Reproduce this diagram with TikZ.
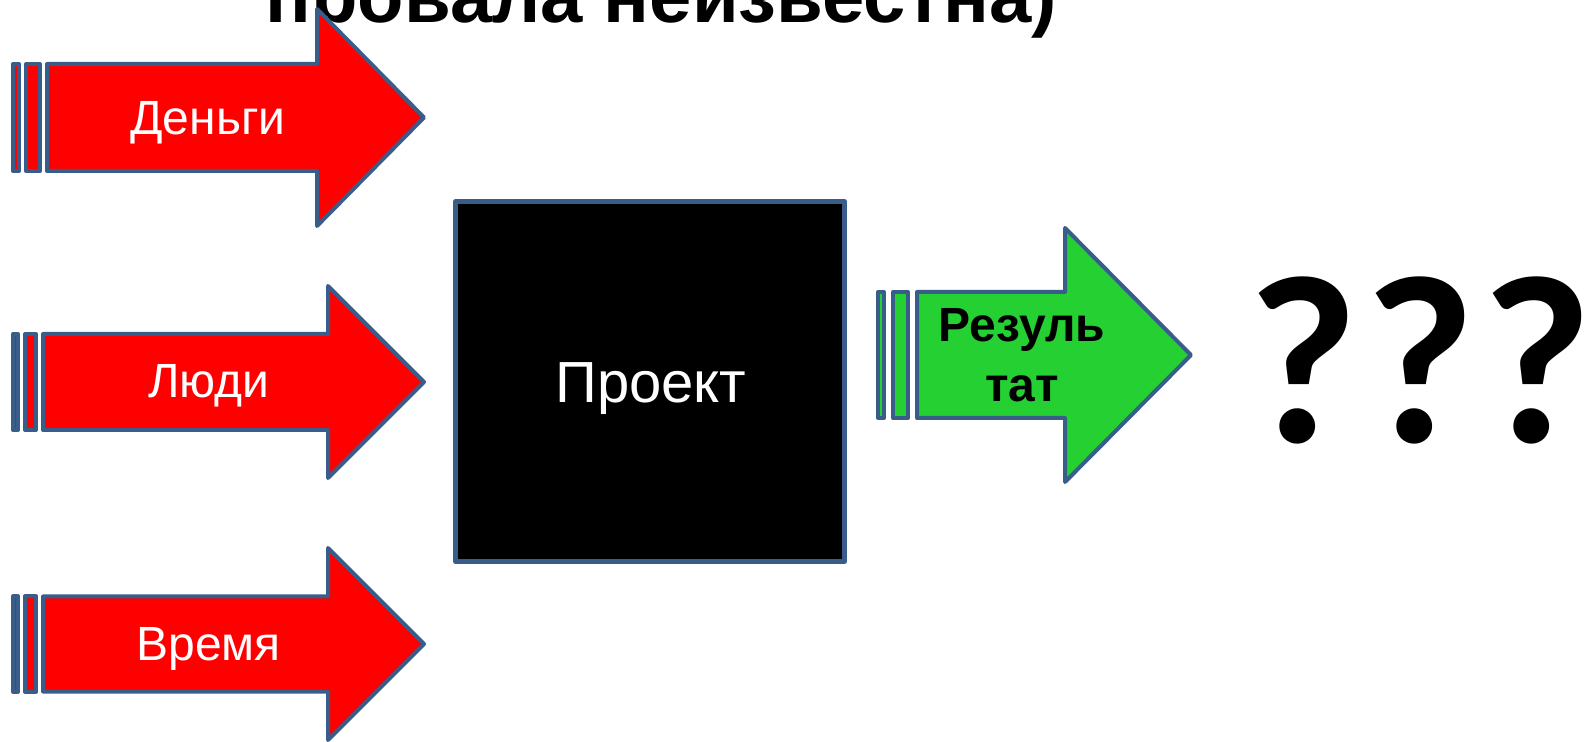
\documentclass[tikz,border=0pt]{standalone}
\usepackage{fontspec}
\setmainfont{Liberation Sans}
\newfontfamily\qfont{Carlito}
\usetikzlibrary{positioning}
\definecolor{edgeblue}{RGB}{56,93,138}
\definecolor{inred}{RGB}{255,0,0}
\definecolor{outgreen}{RGB}{36,208,50}

\tikzset{
  shapeline/.style={draw=edgeblue, line width=2pt, line join=round},
  inarrow/.style={shapeline, fill=inred},
  outarrow/.style={shapeline, fill=outgreen},
  inlabel/.style={text=white, font=\fontsize{24}{29}\selectfont, anchor=base},
  outlabel/.style={text=black, font=\bfseries\fontsize{24}{29}\selectfont, anchor=base}
}

\begin{document}
\begin{tikzpicture}[x=0.5pt, y=-0.5pt]
\useasboundingbox (0,0) rectangle (1585,742);
\clip (0,0) rectangle (1585,742);

% title, cut off by the top edge
\node[font=\bfseries\fontsize{38}{46}\selectfont, anchor=base] (title) at (661,23) {провала неизвестна)};

% inputs
\draw[inarrow] (13,64) rectangle (19,171);
\draw[inarrow] (26,64) rectangle (40,171);
\draw[inarrow] (47,64) -- (317,64) -- (317,9) -- (424,117.5) -- (317,226) -- (317,171) -- (47,171) -- cycle;
\node[inlabel] (money) at (208,135) {Деньги};

\draw[inarrow] (13,334) rectangle (18,430);
\draw[inarrow] (25,334) rectangle (36,430);
\draw[inarrow] (43,334) -- (328,334) -- (328,286) -- (424,382) -- (328,478) -- (328,430) -- (43,430) -- cycle;
\node[inlabel] (people) at (209,398) {Люди};

\draw[inarrow] (13,596.5) rectangle (18,691.5);
\draw[inarrow] (25,596.5) rectangle (36,691.5);
\draw[inarrow] (43,596.5) -- (328,596.5) -- (328,548) -- (424,644) -- (328,740) -- (328,691.5) -- (43,691.5) -- cycle;
\node[inlabel] (time) at (208.5,661) {Время};

% black box
\draw[shapeline, line width=2.5pt, fill=black] (455.5,201.5) rectangle (844.5,561.5);
\node[inlabel, font=\fontsize{29}{35}\selectfont] (project) at (651,403) {Проект};

% output
\draw[outarrow] (878,292) rectangle (884,418);
\draw[outarrow] (893,292) rectangle (908,418);
\draw[outarrow] (917,292) -- (1065,292) -- (1065,228) -- (1191,355) -- (1065,482) -- (1065,418) -- (917,418) -- cycle;
\node[outlabel] (result) at (1022,342) {Резуль};
\node[outlabel] (result2) at (1022,402) {тат};

\node[font=\qfont\bfseries\fontsize{120}{120}\selectfont, anchor=base west, inner sep=0pt] (qmarks) at (1247,443) {?\kern3pt?\kern3pt?};
\end{tikzpicture}
\end{document}
